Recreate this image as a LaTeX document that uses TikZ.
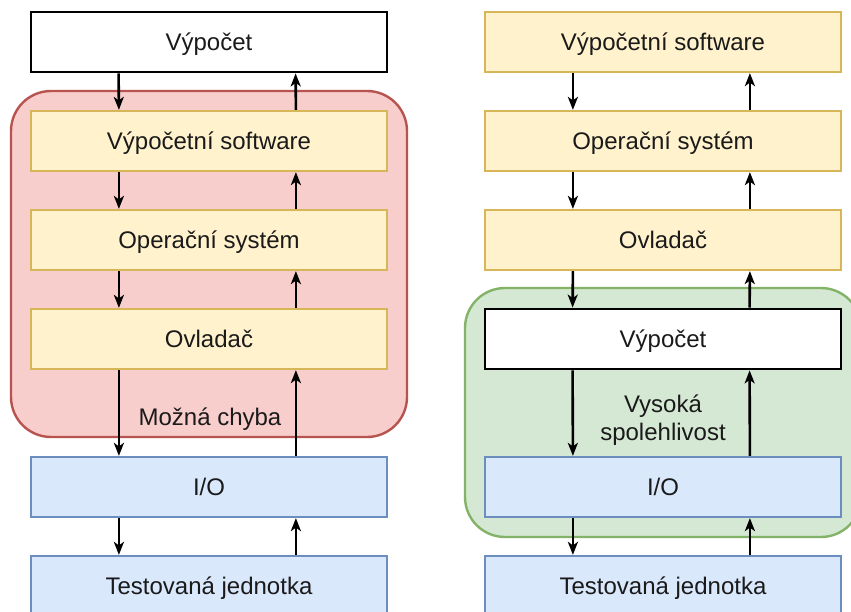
\documentclass[tikz,border=0pt]{standalone}
\usepackage{fontspec}
\setmainfont{Liberation Sans}
\usetikzlibrary{arrows.meta}
\definecolor{redfill}{HTML}{F8CECC}
\definecolor{redline}{HTML}{B85450}
\definecolor{greenfill}{HTML}{D5E8D4}
\definecolor{greenline}{HTML}{82B366}
\definecolor{yelfill}{HTML}{FFF2CC}
\definecolor{yelline}{HTML}{D6B656}
\definecolor{bluefill}{HTML}{DAE8FC}
\definecolor{blueline}{HTML}{6C8EBF}
\definecolor{txt}{HTML}{1A1A1A}
\tikzset{
  layer/.style={rectangle, minimum width=356pt, minimum height=60pt, inner sep=0pt,
    text height=17pt, text depth=0pt,
    font=\fontsize{24}{28}\selectfont, text=txt, line width=2.2pt},
  compute/.style={layer, draw=black, fill=white, line width=2.8pt},
  softlayer/.style={layer, draw=yelline, fill=yelfill},
  hwlayer/.style={layer, draw=blueline, fill=bluefill},
  zone/.style={rectangle, rounded corners=40pt, line width=2.4pt, inner sep=0pt},
  note/.style={font=\fontsize{24}{28}\selectfont, text=txt, align=center, inner sep=0pt},
  arr/.style={line width=2.6pt, -{Stealth[length=13pt,width=10pt,inset=3.5pt]}}
}
\begin{document}
\begin{tikzpicture}[x=1pt,y=-1pt]
\useasboundingbox (0,0) rectangle (851,612);
\clip (0,0) rectangle (851,612);

% grouping zones
\node[zone, draw=redline, fill=redfill, minimum width=396pt, minimum height=346pt] (errzone) at (209,264) {};
\node[zone, draw=greenline, fill=greenfill, minimum width=396pt, minimum height=249pt] (relzone) at (663,412.5) {};

% left stack
\node[compute]   (l1) at (209,42)  {Výpočet};
\node[softlayer] (l2) at (209,141) {Výpočetní software};
\node[softlayer] (l3) at (209,240) {Operační systém};
\node[softlayer] (l4) at (209,339) {Ovladač};
\node[hwlayer]   (l5) at (209,487) {I/O};
\node[hwlayer]   (l6) at (209,586) {Testovaná jednotka};

% right stack
\node[softlayer] (r1) at (663,42)  {Výpočetní software};
\node[softlayer] (r2) at (663,141) {Operační systém};
\node[softlayer] (r3) at (663,240) {Ovladač};
\node[compute]   (r4) at (663,339) {Výpočet};
\node[hwlayer]   (r5) at (663,487) {I/O};
\node[hwlayer]   (r6) at (663,586) {Testovaná jednotka};

% zone captions
\node[note] (errlabel) at (210,419) {Možná chyba};
\node[note] (rellabel) at (663,420) {Vysoká\\spolehlivost};

% down and up connectors between neighbouring layers
\foreach \a/\b in {l1/l2,l2/l3,l3/l4,l4/l5,l5/l6,r1/r2,r2/r3,r3/r4,r4/r5,r5/r6}{
  \draw[arr] ([xshift=89pt]\a.south west) -- ([xshift=89pt]\b.north west);
  \draw[arr] ([xshift=266pt]\b.north west) -- ([xshift=266pt]\a.south west);
}
\end{tikzpicture}
\end{document}
